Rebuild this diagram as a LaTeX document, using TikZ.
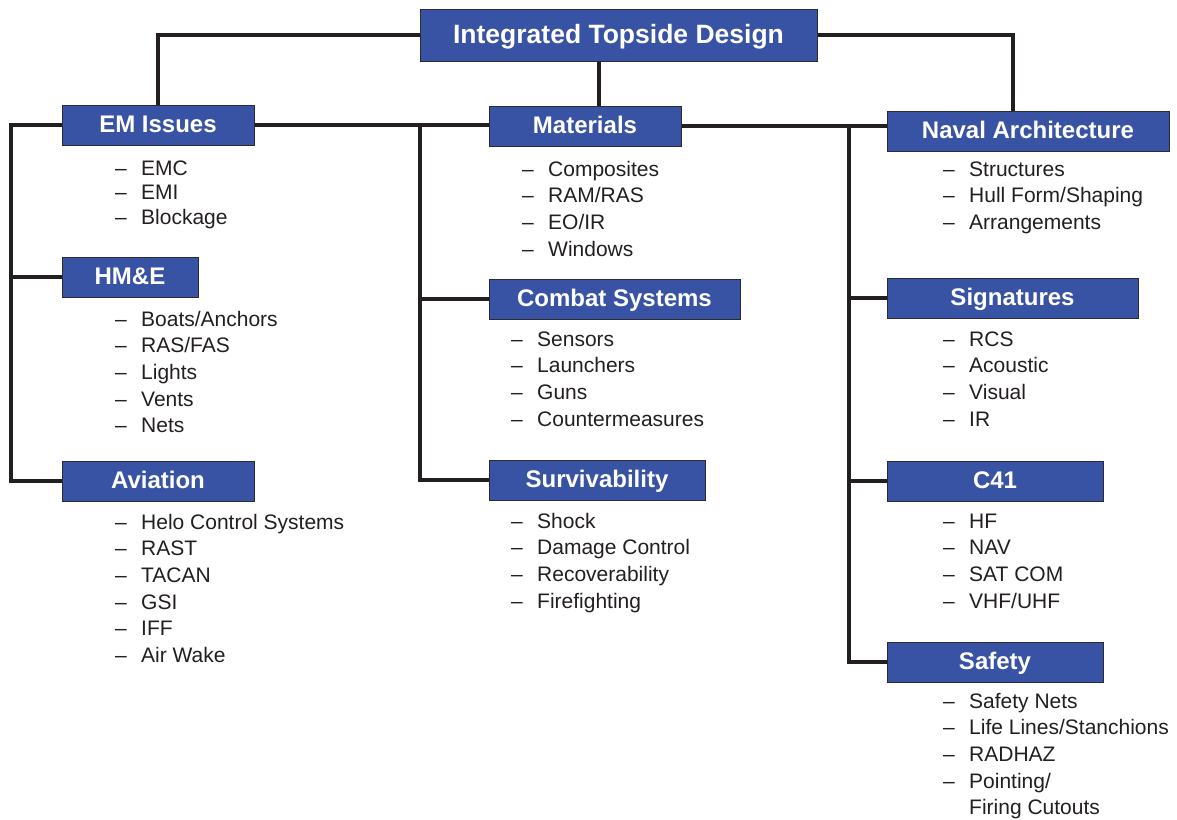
\documentclass[tikz,border=0pt]{standalone}
\usepackage{fontspec}
\setmainfont{Liberation Sans}
\usetikzlibrary{positioning}
\definecolor{boxblue}{HTML}{3953A4}
\definecolor{boxedge}{HTML}{2B2B35}
\definecolor{linkblack}{HTML}{231F20}
\newcommand{\dashlist}[1]{\begin{tabular}[t]{@{}p{26pt}@{}l@{}}#1\end{tabular}}

\begin{document}
\begin{tikzpicture}[
    x=1pt, y=-1pt,
    head/.style={draw=boxedge, line width=1pt, fill=boxblue, text=white, font=\fontsize{24}{28}\selectfont\bfseries, minimum height=40pt, inner sep=0pt, text height=17pt, text depth=3pt},
    items/.style={anchor=base west, inner sep=0pt, font=\fontsize{21}{26.7}\selectfont, text=linkblack},
    link/.style={draw=linkblack, line width=4pt}
]
\useasboundingbox (0,0) rectangle (1177,819);

% heading boxes
\node[head, minimum width=397pt, minimum height=52pt, text height=19pt, font=\fontsize{26.5}{30}\selectfont\bfseries] (top) at (618.5,35) {Integrated Topside Design};
\node[head, minimum width=192pt] (em) at (158,125) {EM Issues};
\node[head, minimum width=192pt] (mat) at (585,126) {Materials};
\node[head, minimum width=282pt] (naval) at (1028,131) {Naval Architecture};
\node[head, minimum width=136pt] (hme) at (130,277) {HM\&E};
\node[head, minimum width=251pt] (comb) at (614.5,299) {Combat Systems};
\node[head, minimum width=251pt] (sig) at (1012.5,298) {Signatures};
\node[head, minimum width=192pt] (avi) at (158,481) {Aviation};
\node[head, minimum width=216pt] (surv) at (597,480) {Survivability};
\node[head, minimum width=216pt] (c41) at (995,481) {C41};
\node[head, minimum width=216pt] (safe) at (995,662) {Safety};

% bus corners
\coordinate (lb) at (11,481);
\coordinate (mb) at (420,480);
\coordinate (rb) at (849,662);

% connectors
\draw[link] (top.west) -| (em.north);
\draw[link] (top.east) -| ([xshift=-15pt]naval.north);
\draw[link] ([xshift=14pt]mat.north) -- ([xshift=14pt]mat.north |- top.south);
\draw[link] (em.east) -- (em.east -| mat.west);
\draw[link] (mat.east) -- (mat.east -| naval.west);
\draw[link] (em.west) -| (lb) -- (avi.west);
\draw[link] (hme.west) -- (hme.west -| lb);
\draw[link] (mb |- em.east) -- (mb) -- (surv.west);
\draw[link] (comb.west) -- (comb.west -| mb);
\draw[link] (rb |- mat.east) -- (rb) -- (safe.west);
\draw[link] (sig.west) -- (sig.west -| rb);
\draw[link] (c41.west) -- (c41.west -| rb);

% item lists
\node[items, font=\fontsize{21}{24.5}\selectfont] (emlist) at (115,175) {\dashlist{–&EMC\\ –&EMI\\ –&Blockage}};
\node[items] (hmelist) at (115,326) {\dashlist{–&Boats/Anchors\\ –&RAS/FAS\\ –&Lights\\ –&Vents\\ –&Nets}};
\node[items] (avilist) at (115,529) {\dashlist{–&Helo Control Systems\\ –&RAST\\ –&TACAN\\ –&GSI\\ –&IFF\\ –&Air Wake}};
\node[items] (matlist) at (522,176) {\dashlist{–&Composites\\ –&RAM/RAS\\ –&EO/IR\\ –&Windows}};
\node[items] (comblist) at (511,346) {\dashlist{–&Sensors\\ –&Launchers\\ –&Guns\\ –&Countermeasures}};
\node[items] (survlist) at (511,528) {\dashlist{–&Shock\\ –&Damage Control\\ –&Recoverability\\ –&Firefighting}};
\node[items] (navlist) at (943,176) {\dashlist{–&Structures\\ –&Hull Form/Shaping\\ –&Arrangements}};
\node[items] (siglist) at (943,346) {\dashlist{–&RCS\\ –&Acoustic\\ –&Visual\\ –&IR}};
\node[items] (c41list) at (943,528) {\dashlist{–&HF\\ –&NAV\\ –&SAT COM\\ –&VHF/UHF}};
\node[items] (safelist) at (943,708) {\dashlist{–&Safety Nets\\ –&Life Lines/Stanchions\\ –&RADHAZ\\ –&Pointing/\\ &Firing Cutouts}};
\end{tikzpicture}
\end{document}
